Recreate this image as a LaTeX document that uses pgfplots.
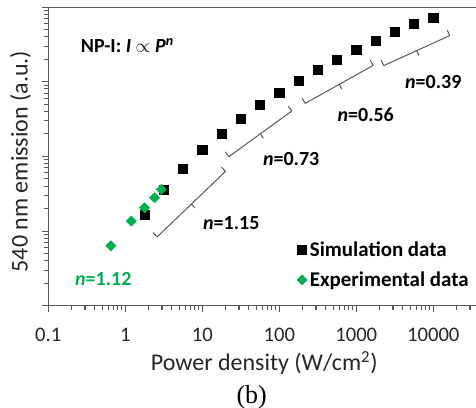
\documentclass[border=0pt]{standalone}
\usepackage{fontspec}
\setmainfont{Carlito}
\newfontfamily\serifb{Liberation Serif}
\usepackage{pgfplots}
\pgfplotsset{compat=1.18}
\usetikzlibrary{calc}
\definecolor{expgreen}{RGB}{0,176,80}
\definecolor{axgray}{RGB}{89,89,89}
\pgfplotsset{myleg/.style={legend image code/.code={\draw[mark repeat=2,mark phase=2,##1] plot coordinates {(0cm,0cm) (0.15cm,0cm) (0.3cm,0cm)};}}}
\newcommand{\bracket}[2]{%
  \coordinate (bA) at (#1);
  \coordinate (bB) at (#2);
  \coordinate (bM) at ($(bA)!0.5!(bB)$);
  \draw[axgray, line width=0.75pt, line join=round]
    (bA) -- ($(bA)!4.5pt!-90:(bB)$) -- ($(bM)!4.5pt!-90:(bB)$) -- ($(bM)!8.5pt!-90:(bB)$);
  \draw[axgray, line width=0.75pt, line join=round]
    ($(bM)!4.5pt!-90:(bB)$) -- ($(bB)!4.5pt!90:(bA)$) -- (bB);
}

\begin{document}
\begin{tikzpicture}
\begin{axis}[
  scale only axis, width=320.8pt, height=224pt,
  xmode=log, ymode=log,
  xmin=0.1, xmax=35900, ymin=1, ymax=10000,
  axis x line*=bottom, axis y line*=left,
  axis line style={axgray, line width=0.8pt},
  tick style={axgray, line width=0.8pt},
  tick align=outside,
  major tick length=4.5pt, minor tick length=3pt,
  log ticks with fixed point,
  /pgf/number format/1000 sep={},
  /pgf/number format/assume math mode=true,
  yticklabels={},
  ticklabel style={font=\fontsize{15.5}{17}\selectfont, text=black!85},
  xticklabel style={yshift=-8.5pt},
  clip=false,
  legend style={draw=none, fill=none, font=\bfseries\fontsize{15.7}{18}\selectfont,
    at={(axis description cs:0.581,0.225)}, anchor=north west, row sep=6pt, inner sep=0pt},
  legend cell align=left,
]
\addplot[only marks, mark=square*, mark size=3.4pt, black, myleg]
  coordinates {(1.78,16.7) (3.16,35.4) (5.62,67.6) (10,121) (17.8,203) (31.6,321) (56.2,486) (100,710)
   (178,1019) (316,1429) (562,1991) (1000,2704) (1778,3573) (3162,4710) (5623,6026) (10000,7261)};
\addlegendentry{Simulation data}
\addplot[only marks, mark=square*, mark size=2.7pt, mark options={rotate=45}, expgreen, myleg]
  coordinates {(0.65,6.35) (1.2,13.6) (1.78,20.5) (2.4,27.9) (2.94,36.1)};
\addlegendentry{Experimental data}

\draw[axgray, line width=0.8pt] (rel axis cs:0,1) -- (rel axis cs:1,1);

\bracket{axis cs:2.29,9.55}{axis cs:17.7,71.9}
\bracket{axis cs:19.9,115}{axis cs:131,471}
\bracket{axis cs:199,603}{axis cs:1520,1945}
\bracket{axis cs:2113,1945}{axis cs:15200,4909}

\begin{scope}[font=\bfseries\fontsize{15}{18}\selectfont]
\node at (axis cs:23.8,12.8) {\textit{n}=1.15};
\node at (axis cs:143,92) {\textit{n}=0.73};
\node at (axis cs:1328,357) {\textit{n}=0.56};
\node at (axis cs:10000,988) {\textit{n}=0.39};
\node[text=expgreen] at (axis cs:0.518,2.28) {\textit{n}=1.12};
\node[anchor=west] at (axis cs:0.231,3090) {NP-I: \textit{I} $\propto$ \textit{P}\textsuperscript{\textit{n}}};
\end{scope}
\node[font=\fontsize{18}{20}\selectfont, text=black!85] at (axis description cs:0.505,-0.192) {Power density (W/cm\textsuperscript{2})};
\node[font=\fontsize{18}{20}\selectfont, text=black!85, rotate=90] at (axis description cs:-0.065,0.483) {540 nm emission (a.u.)};
\node[font=\serifb\fontsize{19.5}{22}\selectfont] at (axis description cs:0.4756,-0.305) {(b)};
\end{axis}
\pgfresetboundingbox
\path (-36.2pt,-76pt) rectangle (320.8pt,229.3pt);
\end{tikzpicture}
\end{document}
